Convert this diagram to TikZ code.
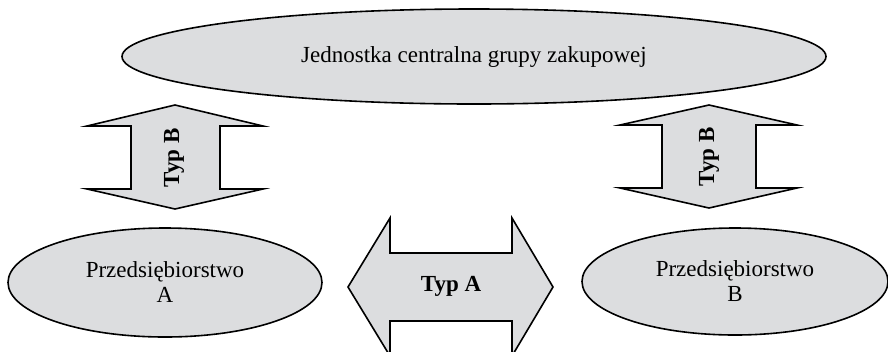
\documentclass[tikz,border=0pt]{standalone}
\usepackage{fontspec}
\setmainfont{Liberation Serif}
\usetikzlibrary{shapes.geometric}
\definecolor{shapegray}{RGB}{220,221,223}
\tikzset{
	unit/.style={draw=black, fill=shapegray, line width=1.2pt, ellipse, inner sep=0pt},
	arrowbox/.style={draw=black, fill=shapegray, line width=1.2pt},
	typlabel/.style={font=\fontsize{17.25}{18.75}\selectfont\bfseries, inner sep=0pt}
}
\begin{document}
\begin{tikzpicture}[x=0.75pt,y=-0.75pt]
	\useasboundingbox (0,0) rectangle (888,351);
	% jednostki
	\node[unit, minimum width=528pt, minimum height=71.25pt, font=\fontsize{17.25}{18.75}\selectfont] (centrala) at (474,56.5) {Jednostka centralna grupy zakupowej};
	\node[unit, minimum width=235.5pt, minimum height=81.75pt, align=center, font=\fontsize{17.25}{18.75}\selectfont] (firmaA) at (165,282.5) {Przedsiębiorstwo\\A};
	\node[unit, minimum width=229.5pt, minimum height=80.25pt, align=center, font=\fontsize{17.25}{18.75}\selectfont] (firmaB) at (735,281.5) {Przedsiębiorstwo\\B};
	% strzalki typ B
	\filldraw[arrowbox](175,105)--(263,126)--(220,126)--(220,189)--(263,189)--(175,209)--(87,189)--(131,189)--(131,126)--(87,126)--cycle;
	\filldraw[arrowbox](709,105)--(797,125)--(756,125)--(756,188)--(797,188)--(709,208)--(620,188)--(662,188)--(662,125)--(620,125)--cycle;
	% strzalka typ A
	\filldraw[arrowbox](348,287)--(390,218)--(390,253)--(512,253)--(512,218)--(553,287)--(512,356)--(512,321)--(390,321)--(390,356)--cycle;
	\node[typlabel, rotate=90] (typBlewy) at (174,158) {Typ B};
	\node[typlabel, rotate=90] (typBprawy) at (709,157) {Typ B};
	\node[typlabel] (typA) at (451,286) {Typ A};
\end{tikzpicture}
\end{document}
